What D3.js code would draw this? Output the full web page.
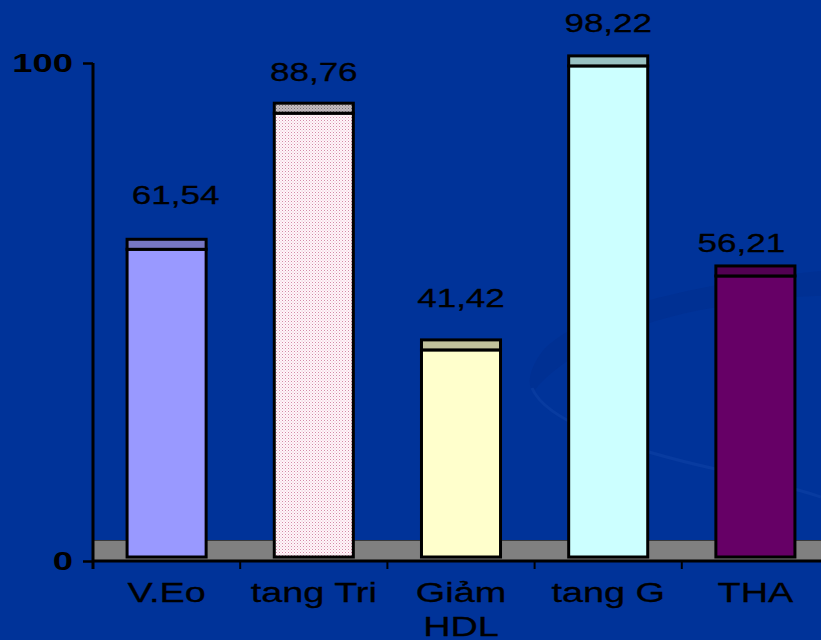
<!DOCTYPE html>
<html>
<head>
<meta charset="utf-8">
<script src="https://cdn.jsdelivr.net/npm/d3@7"></script>
<style>
  html, body { margin: 0; padding: 0; background: #003399; }
  svg { display: block; }
  text { font-family: "Liberation Sans", Arial, sans-serif; fill: #000; }
</style>
</head>
<body>
<svg id="chart" width="821" height="640"></svg>
<script>
// Chart data
const categories = ["V.Eo", "tang Tri", "Giảm\nHDL", "tang G", "THA"];
const values = [61.54, 88.76, 41.42, 98.22, 56.21];
const valueLabels = ["61,54", "88,76", "41,42", "98,22", "56,21"];
const yTickValues = [0, 100];
const yTickLabels = ["0", "100"];

// Appearance
const frontFills = ["#9999ff", "url(#dotsPink)", "#ffffcc", "#ccffff", "#660066"];
const topFills = ["#7777c4", "url(#dotsGrey)", "#c2c29c", "#99c2c2", "#520052"];
const labelNudgeX = [9, 0, 0, 0, -14];
const labelNudgeY = [-35, -22, -33, -24, -14];
const depth = 10;         // height of the bar top face
const stretch = 1.4;      // horizontal text stretch

const svg = d3.select("#chart");
const W = 821, H = 640;

// Background
svg.append("rect").attr("width", W).attr("height", H).attr("fill", "#003399");
const defs = svg.append("defs");

// Dotted fills for the second bar
const pPink = defs.append("pattern").attr("id", "dotsPink")
  .attr("width", 3).attr("height", 3).attr("patternUnits", "userSpaceOnUse");
pPink.append("rect").attr("width", 3).attr("height", 3).attr("fill", "#fff6fa");
pPink.append("rect").attr("x", 0).attr("y", 0).attr("width", 1).attr("height", 1).attr("fill", "#d48aa8");
pPink.append("rect").attr("x", 1.5).attr("y", 1.5).attr("width", 1).attr("height", 1).attr("fill", "#e8b8cc");
const pGrey = defs.append("pattern").attr("id", "dotsGrey")
  .attr("width", 3).attr("height", 3).attr("patternUnits", "userSpaceOnUse");
pGrey.append("rect").attr("width", 3).attr("height", 3).attr("fill", "#c4bcc0");
pGrey.append("rect").attr("width", 1).attr("height", 1).attr("fill", "#7a7378");
pGrey.append("rect").attr("x", 1.5).attr("y", 1.5).attr("width", 1).attr("height", 1).attr("fill", "#958d92");

// Decorative swoosh in the background
svg.append("path")
  .attr("d", "M821,271 C700,282 575,312 542,352 C528,370 527,388 534,392 C546,372 600,330 700,310 C760,299 800,296 821,296 Z")
  .attr("fill", "#002f90").attr("opacity", 0.7);
svg.append("path")
  .attr("d", "M532,388 C545,420 620,448 720,470 C770,482 800,490 821,497")
  .attr("fill", "none").attr("stroke", "#0c3ea3").attr("stroke-width", 3).attr("opacity", 0.7);

// Scales
const x = d3.scaleBand().domain(categories).range([93, 829])
  .paddingInner(0.463).paddingOuter(0.2315);
const y = d3.scaleLinear().domain([0, 100]).range([557, 57]);
const yAxisScale = d3.scaleLinear().domain([0, 100]).range([561, 63]);
const step = x.step();

// Floor
const floorTop = 540, floorBottom = yAxisScale(0);
svg.append("rect").attr("x", 93).attr("y", floorTop)
  .attr("width", W - 93).attr("height", floorBottom - floorTop).attr("fill", "#808080");
svg.append("line").attr("x1", 93).attr("x2", W).attr("y1", floorTop + 0.5).attr("y2", floorTop + 0.5)
  .attr("stroke", "#3a3a3a").attr("stroke-width", 1);

// Bars: front face and top face
const bars = svg.append("g").selectAll("g").data(categories).join("g");
bars.append("rect")
  .attr("x", d => x(d))
  .attr("y", (d, i) => y(values[i]))
  .attr("width", x.bandwidth())
  .attr("height", (d, i) => y(0) - y(values[i]))
  .attr("fill", (d, i) => frontFills[i])
  .attr("stroke", "#000").attr("stroke-width", 3);
bars.append("rect")
  .attr("x", d => x(d))
  .attr("y", (d, i) => y(values[i]) - depth)
  .attr("width", x.bandwidth())
  .attr("height", depth)
  .attr("fill", (d, i) => topFills[i])
  .attr("stroke", "#000").attr("stroke-width", 3);

// Value labels
bars.append("text")
  .attr("transform", (d, i) =>
    `translate(${x(d) + x.bandwidth() / 2 + labelNudgeX[i]},${y(values[i]) - depth + labelNudgeY[i]}) scale(${stretch},1)`)
  .attr("text-anchor", "middle")
  .attr("font-size", 25)
  .attr("stroke", "#000").attr("stroke-width", 0.3)
  .text((d, i) => valueLabels[i]);

// X axis line and ticks at category boundaries
const axisG = svg.append("g");
axisG.append("line").attr("x1", 93).attr("x2", W)
  .attr("y1", yAxisScale(0)).attr("y2", yAxisScale(0))
  .attr("stroke", "#000").attr("stroke-width", 3);
axisG.selectAll("line.tick").data(categories.slice(1)).join("line")
  .attr("class", "tick")
  .attr("x1", d => x(d) - step * x.paddingInner() / 2)
  .attr("x2", d => x(d) - step * x.paddingInner() / 2)
  .attr("y1", yAxisScale(0)).attr("y2", yAxisScale(0) + 8)
  .attr("stroke", "#000").attr("stroke-width", 2);

// Category labels (may wrap onto two lines)
const catLabels = svg.append("g").selectAll("text").data(categories).join("text")
  .attr("transform", d => `translate(${x(d) + x.bandwidth() / 2},602) scale(${stretch},1)`)
  .attr("text-anchor", "middle")
  .attr("font-size", 27)
  .attr("stroke", "#000").attr("stroke-width", 0.3);
catLabels.selectAll("tspan").data(d => d.split("\n")).join("tspan")
  .attr("x", 0).attr("dy", (d, i) => i === 0 ? 0 : 34)
  .text(d => d);

// Y axis
const yAxis = d3.axisLeft(yAxisScale).tickValues(yTickValues)
  .tickFormat((d, i) => yTickLabels[i]).tickSize(10).tickSizeOuter(0).tickPadding(10);
const yG = svg.append("g").attr("transform", "translate(93,0)").call(yAxis);
yG.select(".domain").remove();
yG.selectAll(".tick line").attr("stroke", "#000").attr("stroke-width", 2.5);
yG.selectAll(".tick text")
  .attr("font-size", 26).attr("font-weight", "bold")
  .attr("fill", "#000")
  .attr("font-family", "'Liberation Sans', Arial, sans-serif")
  .attr("text-anchor", "end")
  .attr("x", null)
  .attr("transform", `translate(-20,0) scale(${stretch},1)`);
svg.append("line").attr("x1", 93).attr("x2", 93)
  .attr("y1", yAxisScale(100)).attr("y2", yAxisScale(0) + 8)
  .attr("stroke", "#000").attr("stroke-width", 3);
</script>
</body>
</html>
